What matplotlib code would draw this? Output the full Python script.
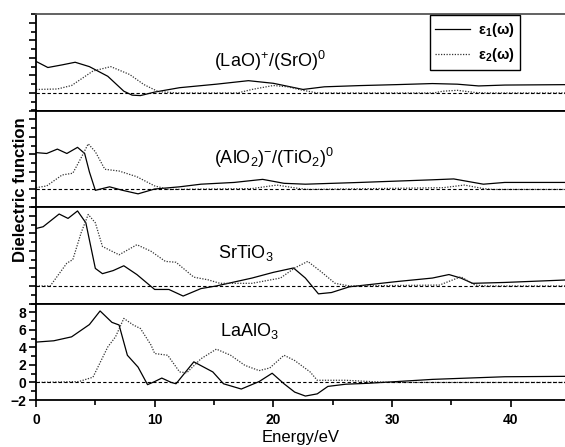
import numpy as np
import matplotlib
matplotlib.use("Agg")
import matplotlib.pyplot as plt
from matplotlib.ticker import MultipleLocator

plt.rcParams['font.family'] = ['Liberation Sans', 'DejaVu Sans']
plt.rcParams['mathtext.fontset'] = 'custom'
plt.rcParams['mathtext.rm'] = 'Liberation Sans'
plt.rcParams['mathtext.it'] = 'Liberation Sans:italic'
plt.rcParams['mathtext.bf'] = 'Liberation Sans:bold'

# panel labels, top to bottom
labels = [r'(LaO)$^{+}$/(SrO)$^{0}$', r'(AlO$_{2}$)$^{-}$/(TiO$_{2}$)$^{0}$',
          r'SrTiO$_{3}$', r'LaAlO$_{3}$']
legend_labels = [r'ε$_{\mathbf{1}}$(ω)', r'ε$_{\mathbf{2}}$(ω)']

# (LaO)+/(SrO)0
e1_x_a = [0, 1.0, 2.2, 3.3, 4.5, 6.05, 7.4, 8.1, 8.8, 10.0, 12.1, 15.2, 17.9, 20.0, 22.5, 24.3, 27.3, 30.4, 33.4, 35.5, 37.3, 39.5, 45]
e1_y_a = [3.6, 2.9, 3.2, 3.5, 3.0, 1.9, 0.2, -0.25, -0.3, 0.1, 0.6, 1.0, 1.4, 1.1, 0.4, 0.7, 0.84, 0.95, 1.07, 1.0, 0.8, 0.9, 0.95]
e2_x_a = [0, 1.8, 3.0, 4.8, 6.3, 7.9, 9.1, 10.3, 12, 17, 18.2, 20.0, 21.2, 22.5, 23.7, 33.5, 34.3, 35.5, 37.0, 38, 45]
e2_y_a = [0.4, 0.45, 0.85, 2.5, 3.0, 2.1, 0.95, 0.15, 0, 0, 0.4, 0.85, 0.7, 0.3, 0, 0, 0.2, 0.3, 0.05, 0, 0]

# (AlO2)-/(TiO2)0
e1_x_b = [0, 0.9, 1.8, 2.6, 3.5, 4.1, 4.5, 5.0, 6.2, 7.3, 8.6, 10.0, 12.1, 13.9, 16.7, 19.1, 20.9, 22.7, 27.3, 33.4, 35.2, 37.7, 39.5, 45]
e1_y_b = [4.2, 4.1, 4.6, 4.1, 4.8, 4.1, 2.0, -0.1, 0.3, -0.1, -0.5, 0.05, 0.3, 0.6, 0.8, 1.15, 0.7, 0.6, 0.8, 1.1, 1.2, 0.6, 0.8, 0.8]
e2_x_b = [0, 0.9, 2.2, 3.1, 3.8, 4.4, 5.0, 5.8, 7.0, 8.5, 10.0, 11.2, 18.2, 20.3, 22.2, 23, 34.3, 36.1, 37.7, 38.5, 45]
e2_y_b = [0.2, 0.4, 1.65, 1.85, 3.6, 5.2, 4.3, 2.3, 2.1, 1.45, 0.4, 0.0, 0.1, 0.5, 0.1, 0, 0.2, 0.5, 0.1, 0, 0]

# SrTiO3
e1_x_c = [0, 0.6, 1.95, 2.7, 3.5, 4.2, 5.0, 5.6, 6.5, 7.4, 8.5, 10.0, 11.2, 12.4, 13.9, 15.2, 18.2, 20.0, 21.7, 22.7, 23.8, 24.9, 26.4, 30.4, 33.4, 34.8, 35.8, 36.8, 39.5, 45]
e1_y_c = [6.55, 6.75, 8.2, 7.7, 8.55, 7.2, 2.0, 1.4, 1.75, 2.3, 1.3, -0.4, -0.4, -1.15, -0.3, 0.0, 0.9, 1.55, 2.05, 0.9, -0.9, -0.75, -0.1, 0.5, 0.9, 1.3, 0.9, 0.3, 0.4, 0.7]
e2_x_c = [0, 1.2, 2.6, 3.1, 3.8, 4.4, 5.0, 5.6, 7.0, 8.5, 9.7, 10.9, 11.8, 13.3, 14.5, 15.5, 18.2, 20.6, 21.8, 22.9, 24.0, 25.2, 26.4, 34.0, 35.8, 37.0, 38, 45]
e2_y_c = [0, 0, 2.6, 3.0, 6.05, 8.15, 7.2, 4.5, 3.55, 4.7, 3.95, 2.8, 2.7, 1.0, 0.7, 0.3, 0.3, 0.9, 2.05, 2.8, 1.65, 0.3, 0.0, 0.1, 1.05, 0.1, 0, 0]

# LaAlO3
e1_x_d = [0, 1.5, 3.0, 4.5, 5.4, 6.4, 7.0, 7.7, 8.6, 9.4, 10.0, 10.6, 11.4, 11.8, 13.3, 14.9, 15.8, 17.3, 18.8, 19.9, 20.9, 21.8, 22.7, 23.7, 24.6, 26.1, 27.9, 30.4, 33.4, 36.4, 39.5, 45]
e1_y_d = [4.6, 4.75, 5.2, 6.6, 8.15, 6.85, 6.55, 3.1, 1.75, -0.25, 0.1, 0.5, 0.0, -0.15, 2.35, 1.2, -0.15, -0.75, 0.1, 1.05, -0.15, -1.1, -1.55, -1.3, -0.45, -0.2, -0.1, 0.1, 0.35, 0.5, 0.65, 0.7]
e2_x_d = [0, 3.6, 4.8, 6.05, 6.7, 7.4, 8.2, 8.8, 9.7, 10.0, 11.1, 12.1, 12.7, 13.9, 15.2, 16.4, 17.6, 18.8, 19.7, 20.9, 21.8, 23.1, 23.7, 26.1, 28.2, 30, 45]
e2_y_d = [0, 0.1, 0.6, 4.05, 5.2, 7.3, 6.55, 6.15, 4.25, 3.3, 3.1, 1.2, 1.1, 2.7, 3.8, 3.1, 1.95, 1.35, 1.65, 3.1, 2.5, 1.2, 0.25, 0.25, 0.1, 0, 0]

e1_x = [e1_x_a, e1_x_b, e1_x_c, e1_x_d]
e1_y = [e1_y_a, e1_y_b, e1_y_c, e1_y_d]
e2_x = [e2_x_a, e2_x_b, e2_x_c, e2_x_d]
e2_y = [e2_y_a, e2_y_b, e2_y_c, e2_y_d]
label_pos = [(15, 3.6), (15, 3.6), (15.3, 3.7), (15.5, 5.9)]

W, H = 565, 447
fig = plt.figure(figsize=(W / 100, H / 100), dpi=100)

left = 36 / W
width = (570 - 36) / W
top_px, bot_px = 14, 400
ph = (bot_px - top_px) / 4

axes = []
for i in range(4):
    y0 = (H - top_px - (i + 1) * ph) / H
    ax = fig.add_axes([left, y0, width, ph / H])
    axes.append(ax)
    ax.plot(e1_x[i], e1_y[i], color='black', lw=0.9, label=legend_labels[0])
    ax.plot(e2_x[i], e2_y[i], color='#333333', lw=0.9, ls=(0, (1, 1.2)), label=legend_labels[1])
    ax.axhline(0, color='black', lw=0.8, ls=(0, (3, 2)))
    ax.set_xlim(0, 45)
    ax.set_ylim(-2, 9)
    ax.xaxis.set_major_locator(MultipleLocator(10))
    ax.xaxis.set_minor_locator(MultipleLocator(5))
    ax.yaxis.set_major_locator(MultipleLocator(2))
    ax.yaxis.set_minor_locator(MultipleLocator(1))
    ax.tick_params(which='major', direction='out', length=5, width=1.2)
    ax.tick_params(which='minor', direction='out', length=3.5, width=1.2)
    for s in ['left', 'bottom', 'top']:
        ax.spines[s].set_linewidth(1.3)
    ax.spines['right'].set_visible(False)
    ax.text(label_pos[i][0], label_pos[i][1], labels[i], fontsize=13, ha='left', va='center')
    if i < 3:
        ax.tick_params(labelbottom=False, labelleft=False)
    else:
        for t in ax.get_xticklabels() + ax.get_yticklabels():
            t.set_fontweight('bold')
            t.set_fontsize(10)
        ax.tick_params(axis='x', pad=4)
        ax.tick_params(axis='y', pad=2)
        ax.set_xlabel('Energy/eV', fontsize=12)
        ax.xaxis.set_label_coords(22.3 / 45, -0.31)
        ax.xaxis.label.set_va('top')

axes[0].spines['top'].set_color('#555555')

leg = axes[0].legend(loc='upper right', bbox_to_anchor=(520 / W, 1 - 15 / H),
                     bbox_transform=fig.transFigure, frameon=True, fancybox=False,
                     framealpha=1, edgecolor='black', handlelength=2.4,
                     labelspacing=0.5, borderpad=0.4, handletextpad=0.5,
                     borderaxespad=0, prop={'weight': 'bold', 'size': 10.5})
leg.get_frame().set_linewidth(1.0)

fig.text(21 / W, 1 - 190 / H, 'Dielectric function', rotation=90, fontsize=12,
         fontweight='bold', ha='center', va='center')

fig.savefig('out.png', dpi=100)
